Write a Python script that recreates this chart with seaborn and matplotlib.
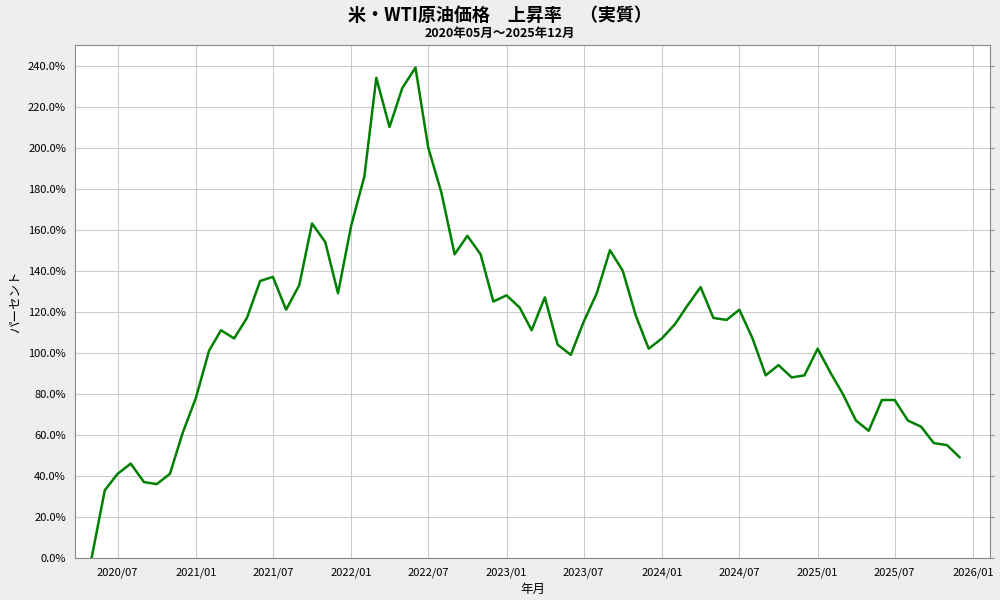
import matplotlib
matplotlib.use("Agg")
import matplotlib.pyplot as plt
import matplotlib.dates as mdates
import seaborn as sns
import pandas as pd

start = "2020-05-01"
values = [0, 33, 41, 46, 37, 36, 41, 61, 78, 101, 111, 107, 117, 135, 137, 121, 133, 163, 154, 129,
          162, 186, 234, 210, 229, 239, 200, 178, 148, 157, 148, 125,
          128, 122, 111, 127, 104, 99, 115, 129, 150, 140, 118, 102,
          107, 114, 123, 132, 117, 116, 121, 107, 89, 94, 88, 89,
          102, 90, 80, 67, 62, 77, 77, 67, 64, 56, 55, 49]
dates = pd.date_range(start, periods=len(values), freq="MS")
df = pd.DataFrame({"date": dates, "value": values})

sns.set_style("whitegrid")
plt.rcParams['font.family'] = ['Noto Sans CJK JP', 'DejaVu Sans']
plt.rcParams['text.color'] = 'black'
plt.rcParams['axes.labelcolor'] = 'black'
plt.rcParams['xtick.color'] = 'black'
plt.rcParams['ytick.color'] = 'black'

fig = plt.figure(figsize=(10, 6), dpi=100, facecolor="#eeeeee")
ax = fig.add_axes([0.075, 0.07, 0.915, 0.855])
ax.set_facecolor("white")
sns.lineplot(data=df, x="date", y="value", color="#008000", linewidth=1.8, ax=ax)

ax.set_xlim(pd.Timestamp("2020-03-23"), pd.Timestamp("2026-02-10"))
ax.set_ylim(0, 250)
ax.set_yticks(range(0, 241, 20))
ax.set_yticklabels([f"{v:.1f}%" for v in range(0, 241, 20)], fontsize=8)
ax.xaxis.set_major_locator(mdates.MonthLocator(bymonth=[1, 7]))
ax.xaxis.set_major_formatter(mdates.DateFormatter("%Y/%m"))
ax.tick_params(axis="x", labelsize=8)
ax.tick_params(axis="both", length=3, color="#888888")
ax.grid(True, color="#cccccc", linewidth=0.8)
for s in ax.spines.values():
    s.set_color("#888888")
    s.set_linewidth(0.8)
ax.set_xlabel("年月", fontsize=9)
ax.set_ylabel("パーセント", fontsize=9)
ax.tick_params(axis="y", right=True, direction="out")

fig.text(0.5, 0.975, "米・WTI原油価格　上昇率　（実質）", ha="center", va="center", fontsize=13, fontweight="bold")
fig.text(0.5, 0.945, "2020年05月～2025年12月", ha="center", va="center", fontsize=9, fontweight="bold")

fig.savefig("out.png", dpi=100, facecolor=fig.get_facecolor())
